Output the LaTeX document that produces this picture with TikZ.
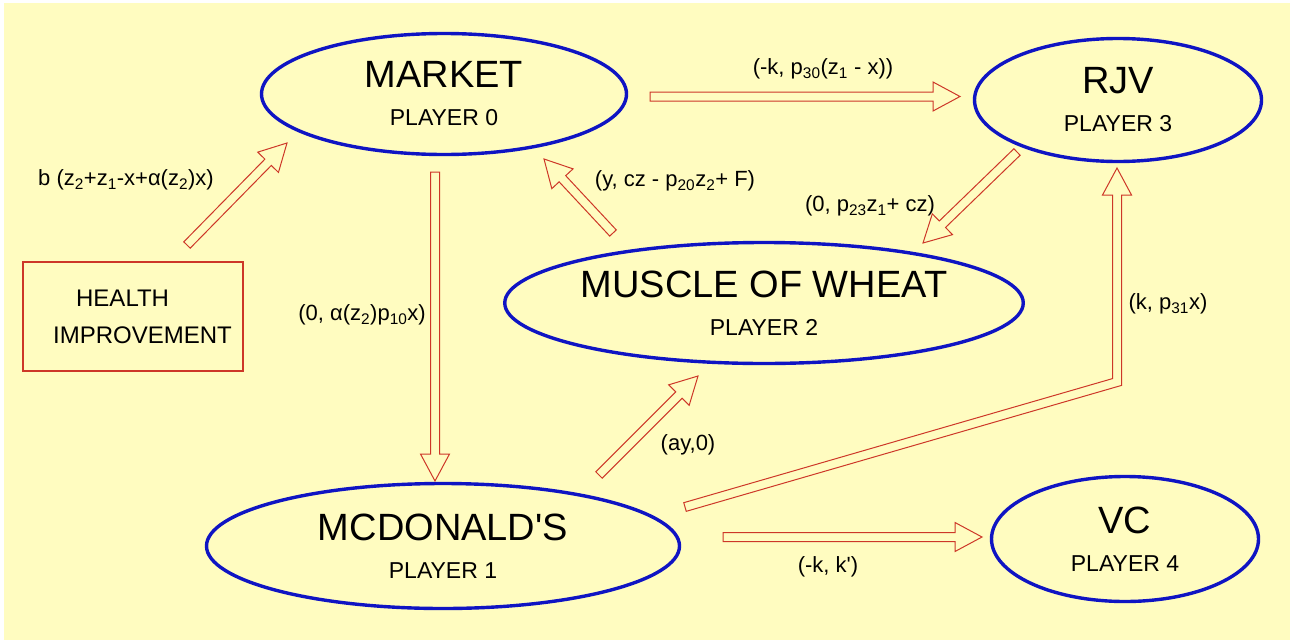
\documentclass[tikz,border=0pt]{standalone}
\usepackage{fontspec}
\setmainfont{Liberation Sans}
\usepackage{tikz}
\usetikzlibrary{shapes.geometric,calc}

\definecolor{paper}{RGB}{255,252,192}
\definecolor{rimblue}{RGB}{15,20,195}
\definecolor{flowred}{RGB}{205,55,40}

% hollow block arrow from #1 (tail) to #2 (tip)
\newcommand{\flowarrow}[2]{%
  \coordinate (hb) at ($(#2)!27pt!(#1)$);
  \filldraw[flow] ($(#1)!4.5pt!90:(#2)$) -- ($(hb)!4.5pt!90:(#2)$)
    -- ($(hb)!14.5pt!90:(#2)$) -- (#2) -- ($(hb)!14.5pt!-90:(#2)$)
    -- ($(hb)!4.5pt!-90:(#2)$) -- ($(#1)!4.5pt!-90:(#2)$) -- cycle;
}

\begin{document}
\begin{tikzpicture}[x=1pt,y=-1pt,
    player/.style={ellipse, draw=rimblue, line width=3.4pt, align=center, inner sep=0pt,
      text=black, font=\fontsize{38}{38}\selectfont},
    box/.style={draw=flowred, line width=1.2pt, minimum width=220pt, minimum height=109pt,
      align=left, inner sep=0pt, text=black, font=\fontsize{24}{37}\selectfont},
    lbl/.style={inner sep=0pt, text=black, font=\fontsize{22}{26}\selectfont},
    flow/.style={draw=flowred, fill=paper, line width=1pt, line join=miter}]
    \useasboundingbox (0,0) rectangle (1290,640);
    \fill[white] (0,0) rectangle (1290,640);
    \fill[paper] (4,3) rectangle (1290,640);

    % players
    \node[player, minimum width=365pt, minimum height=121pt] (mkt) at (444,94)
      {MARKET\\{\fontsize{23}{23}\selectfont PLAYER 0}};
    \node[player, minimum width=287pt, minimum height=123pt] (rjv) at (1118,100)
      {RJV\\{\fontsize{23}{23}\selectfont PLAYER 3}};
    \node[player, minimum width=509pt, minimum height=121pt] (mow) at (764,303)
      {MUSCLE OF WHEAT\\{\fontsize{23}{23}\selectfont PLAYER 2}};
    \node[player, minimum width=473pt, minimum height=125pt] (mcd) at (443,546)
      {MCDONALD\textquotesingle S\\{\fontsize{23}{23}\selectfont PLAYER 1}};
    \node[player, minimum width=267pt, minimum height=125pt] (vc) at (1125,539)
      {VC\\{\fontsize{23}{23}\selectfont PLAYER 4}};
    \node[box] (health) at (133,316.5)
      {\hspace*{42pt}HEALTH\\\hspace*{19pt}IMPROVEMENT};

    % arrow ends
    \coordinate (health-out) at (187,245);
    \coordinate (mkt-in) at (287,143);
    \coordinate (mkt-down) at (435,172);
    \coordinate (mcd-in) at (435,481);
    \coordinate (mow-up) at (613,233);
    \coordinate (mkt-back) at (544,159);
    \coordinate (mkt-out) at (650,96.5);
    \coordinate (rjv-in) at (960,96.5);
    \coordinate (rjv-out) at (1017,152);
    \coordinate (mow-in) at (923,243);
    \coordinate (mcd-up) at (599,475);
    \coordinate (mow-low) at (698,376);
    \coordinate (mcd-out) at (723,537);
    \coordinate (vc-in) at (982,537);
    \coordinate (rjv-low) at (1117,168);

    \flowarrow{health-out}{mkt-in}
    \flowarrow{mkt-down}{mcd-in}
    \flowarrow{mow-up}{mkt-back}
    \flowarrow{mkt-out}{rjv-in}
    \flowarrow{rjv-out}{mow-in}
    \flowarrow{mcd-up}{mow-low}
    \flowarrow{mcd-out}{vc-in}
    % bent one, McDonald's up to RJV
    \filldraw[flow] (683.75,502.68) -- (1112.5,378.6) -- (1112.5,195) -- (1102.5,195)
      -- (rjv-low) -- (1131.5,195) -- (1121.5,195) -- (1121.5,385.4)
      -- (686.25,511.32) -- cycle;

    % payoffs
    \node[lbl] (l-health) at (126,180) {b (z\textsubscript{2}+z\textsubscript{1}-x+α(z\textsubscript{2})x)};
    \node[lbl] (l-mcd) at (362,315) {(0, α(z\textsubscript{2})p\textsubscript{10}x)};
    \node[lbl] (l-mow) at (675,181) {(y, cz - p\textsubscript{20}z\textsubscript{2}+ F)};
    \node[lbl] (l-rjvmow) at (870,206) {(0, p\textsubscript{23}z\textsubscript{1}+ cz)};
    \node[lbl] (l-rjv) at (823,69) {(-k, p\textsubscript{30}(z\textsubscript{1} - x))};
    \node[lbl] (l-rjvmcd) at (1168,304) {(k, p\textsubscript{31}x)};
    \node[lbl] (l-ay) at (688,445) {(ay,0)};
    \node[lbl] (l-vc) at (828,567) {(-k, k\textquotesingle)};
  \end{tikzpicture}
\end{document}
